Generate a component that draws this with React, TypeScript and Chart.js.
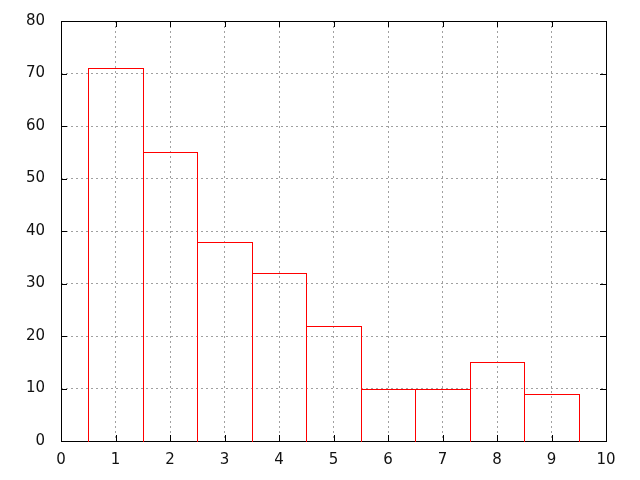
import React, { useEffect, useRef } from "react";
import { Chart, registerables } from "chart.js";

Chart.register(...registerables);

const bins = [1, 2, 3, 4, 5, 6, 7, 8, 9];
const counts = [71, 55, 38, 32, 22, 10, 10, 15, 9];
const xTicks = [0, 1, 2, 3, 4, 5, 6, 7, 8, 9, 10];
const yTicks = [0, 10, 20, 30, 40, 50, 60, 70, 80];

const FONT = "'DejaVu Sans', sans-serif";

const framePlugin = {
  id: "frame",
  afterDraw(chart: any) {
    const { ctx, chartArea: a, scales } = chart;
    const len = 6;
    const L = Math.round(a.left);
    const R = Math.round(a.right);
    const T = Math.round(a.top);
    const B = Math.round(a.bottom);
    ctx.save();
    ctx.fillStyle = "#000000";
    for (const t of xTicks) {
      const x = Math.round(scales.x.getPixelForValue(t));
      ctx.fillRect(x, B - len, 1, len);
      ctx.fillRect(x, T, 1, len);
    }
    for (const t of yTicks) {
      const y = Math.round(scales.y.getPixelForValue(t));
      ctx.fillRect(L, y, len, 1);
      ctx.fillRect(R - len, y, len, 1);
    }
    ctx.fillRect(L, T, R - L + 1, 1);
    ctx.fillRect(L, B, R - L + 1, 1);
    ctx.fillRect(L, T, 1, B - T + 1);
    ctx.fillRect(R, T, 1, B - T + 1);
    // bar outlines, taken from the library's bar elements
    const meta = chart.getDatasetMeta(0);
    ctx.fillStyle = "#ff0000";
    for (const el of meta.data) {
      const p = el.getProps(["x", "y", "base", "width"], true);
      const l = Math.round(p.x - p.width / 2);
      const r = Math.round(p.x + p.width / 2);
      const t = Math.round(p.y);
      const b = Math.round(p.base);
      ctx.fillRect(l, t, r - l + 1, 1);
      ctx.fillRect(l, t, 1, b - t + 1);
      ctx.fillRect(r, t, 1, b - t + 1);
    }
    ctx.restore();
  },
};

export default function App() {
  const ref = useRef<HTMLCanvasElement>(null);
  useEffect(() => {
    if (!ref.current) return;
    const chart = new Chart(ref.current, {
      type: "bar",
      data: {
        datasets: [
          {
            data: bins.map((b, i) => ({ x: b, y: counts[i] })),
            backgroundColor: "rgba(0,0,0,0)",
            borderColor: "rgba(0,0,0,0)",
            borderWidth: 0,
            barPercentage: 1,
            categoryPercentage: 1,
          },
        ],
      },
      options: {
        animation: false,
        responsive: true,
        maintainAspectRatio: false,
        layout: { padding: { left: 0, right: 34, top: 21, bottom: 0 } },
        plugins: {
          legend: { display: false },
          tooltip: { enabled: false },
        },
        scales: {
          x: {
            type: "linear",
            min: 0,
            max: 10,
            offset: false,
            afterFit: (s: any) => {
              s.height = 39;
              s.paddingLeft = 0;
              s.paddingRight = 0;
            },
            afterBuildTicks: (s: any) => {
              s.ticks = xTicks.map((v) => ({ value: v }));
            },
            ticks: {
              padding: 10,
              color: "#111",
              font: { family: FONT, size: 15 },
              maxRotation: 0,
              autoSkip: false,
            },
            grid: {
              offset: false,
              drawTicks: false,
              color: "#a0a0a0",
              lineWidth: 1,
            },
            border: { display: false, dash: [2, 3] },
          },
          y: {
            min: 0,
            max: 80,
            afterFit: (s: any) => {
              s.width = 61;
              s.paddingTop = 0;
              s.paddingBottom = 0;
            },
            afterBuildTicks: (s: any) => {
              s.ticks = yTicks.map((v) => ({ value: v }));
            },
            ticks: {
              padding: 16,
              color: "#111",
              font: { family: FONT, size: 15 },
            },
            grid: {
              drawTicks: false,
              color: "#a0a0a0",
              lineWidth: 1,
            },
            border: { display: false, dash: [2, 3] },
          },
        },
      },
      plugins: [framePlugin],
    });
    return () => chart.destroy();
  }, []);
  return (
    <div
      style={{
        position: "absolute",
        left: 0,
        top: 0,
        width: 640,
        height: 480,
        background: "#fff",
      }}
    >
      <canvas ref={ref} />
    </div>
  );
}
